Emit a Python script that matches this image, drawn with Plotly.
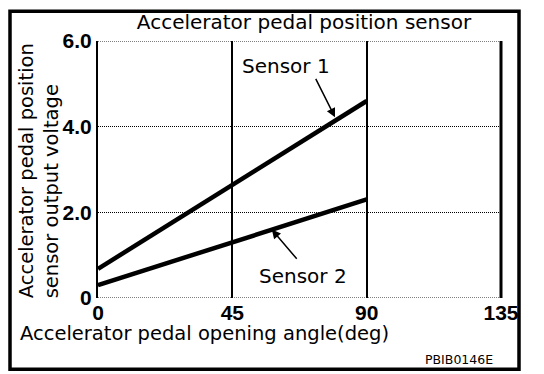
import plotly.graph_objects as go

# Data
angle = [0, 90]
sensor1 = [0.68, 4.60]
sensor2 = [0.30, 2.30]
x_ticks = [0, 45, 90, 135]
x_ticktext = ["0", "45", "90", "135"]
y_ticks = [0, 2, 4, 6]
y_ticktext = ["0", "2.0", "4.0", "6.0"]

TXT = "DejaVu Sans"
TICK = "Liberation Sans"

fig = go.Figure()
for name, vals in [("Sensor 1", sensor1), ("Sensor 2", sensor2)]:
    fig.add_trace(go.Scatter(x=angle, y=vals, mode="lines", name=name,
                             line=dict(color="black", width=4.5), showlegend=False))

fig.update_layout(
    width=544, height=374,
    margin=dict(l=98, r=43, t=41, b=76),
    paper_bgcolor="white", plot_bgcolor="white",
    title=dict(text="Accelerator pedal position sensor", x=304/544, y=1-22/374,
               xanchor="center", yanchor="middle", font=dict(family=TXT, size=20, color="black")),
    xaxis=dict(range=[0, 135], tickvals=x_ticks, ticktext=x_ticktext, showgrid=True,
               gridcolor="black", gridwidth=2, zeroline=False, showline=False, ticks="",
               tickfont=dict(family=TICK, size=21, color="black", weight="bold")),
    yaxis=dict(range=[0, 6], tickvals=y_ticks, ticktext=y_ticktext, showgrid=True,
               gridcolor="black", gridwidth=1, griddash="1px,1px", zeroline=False,
               showline=True, linecolor="black", linewidth=2, ticks="",
               tickfont=dict(family=TICK, size=21, color="black", weight="bold")),
)

# right solid edge, bottom and top dotted lines
fig.add_shape(type="line", xref="paper", yref="paper", x0=1, x1=1, y0=0, y1=1,
              layer="above", line=dict(color="black", width=3))
fig.add_shape(type="line", xref="x", yref="y", x0=0, x1=135, y0=0, y1=0,
              line=dict(color="black", width=1, dash="1px,1px"))
fig.add_shape(type="line", xref="x", yref="y", x0=0, x1=135, y0=6, y1=6,
              line=dict(color="black", width=1, dash="1px,1px"))

# outer border
fig.add_shape(type="rect", xref="paper", yref="paper",
              x0=(10-98)/403, x1=(519-98)/403, y0=(297.7-369)/257, y1=(297.7-11)/257,
              line=dict(color="black", width=3.5))

# axis titles
fig.add_annotation(text="Accelerator pedal position<br>sensor output voltage",
                   xref="paper", yref="paper", x=(38.5-98)/403, y=(297.7-300)/257,
                   xanchor="center", yanchor="bottom", textangle=-90, align="left",
                   showarrow=False, font=dict(family=TXT, size=19.5, color="black"))
fig.add_annotation(text="Accelerator pedal opening angle(deg)",
                   xref="paper", yref="paper", x=(204-98)/403, y=(297.7-333)/257,
                   xanchor="center", yanchor="middle", showarrow=False,
                   font=dict(family=TXT, size=19.5, color="black"))
fig.add_annotation(text="PBIB0146E", xref="paper", yref="paper",
                   x=(458.5-98)/403, y=(297.7-359.5)/257, xanchor="center", yanchor="middle",
                   showarrow=False, font=dict(family=TXT, size=12.5, color="black"))

# sensor labels with arrows
fig.add_annotation(text="Sensor 1", x=63, y=5.41, xref="x", yref="y", showarrow=False,
                   font=dict(family=TXT, size=20, color="black"))
fig.add_annotation(text="", x=79.4, y=4.22, ax=72.7, ay=5.15, xref="x", yref="y",
                   axref="x", ayref="y", showarrow=True, arrowhead=2, arrowsize=1.2,
                   arrowwidth=1.5, arrowcolor="black")
fig.add_annotation(text="Sensor 2", x=68.7, y=0.51, xref="x", yref="y", showarrow=False,
                   font=dict(family=TXT, size=20, color="black"))
fig.add_annotation(text="", x=58.2, y=1.6, ax=67, ay=0.88, xref="x", yref="y",
                   axref="x", ayref="y", showarrow=True, arrowhead=2, arrowsize=1.2,
                   arrowwidth=1.5, arrowcolor="black")

fig.write_html("out.html")
